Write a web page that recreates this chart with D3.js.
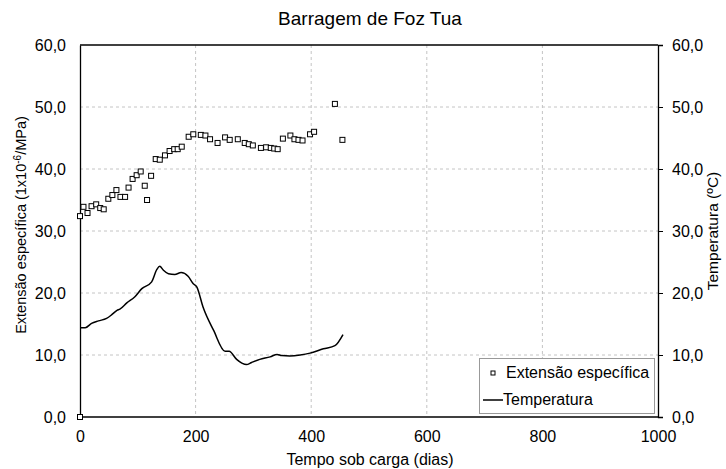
<!DOCTYPE html>
<html>
<head>
<meta charset="utf-8">
<script src="https://cdn.jsdelivr.net/npm/d3@7"></script>
<style>
  body { margin: 0; background: #fff; }
  svg text { font-family: "Liberation Sans", Arial, sans-serif; fill: #000; }
</style>
</head>
<body>
<svg id="chart" width="726" height="469"></svg>
<script>
// dias / extensão específica (1e-6/MPa)
var extDays = [0, 0, 6, 13, 20, 28, 35, 41, 49, 56, 63, 70, 78, 84, 91, 98, 105, 112, 116, 123,
  131, 138, 147, 155, 163, 169, 176, 188, 196, 209, 217, 225, 238, 251, 259, 273, 285, 292, 299,
  313, 322, 330, 336, 342, 351, 364, 371, 378, 385, 398, 405, 441, 454];
var extValues = [0, 32.4, 33.9, 32.9, 34.0, 34.3, 33.7, 33.5, 35.2, 35.8, 36.6, 35.5, 35.5, 37.0, 38.4,
  39.0, 39.6, 37.3, 35.0, 38.9, 41.6, 41.5, 42.2, 42.9, 43.2, 43.2, 43.6, 45.2, 45.6, 45.5, 45.4,
  44.8, 44.2, 45.1, 44.7, 44.8, 44.2, 44.0, 43.8, 43.4, 43.5, 43.4, 43.3, 43.2, 44.9, 45.4, 44.8,
  44.7, 44.6, 45.6, 46.0, 50.5, 44.7];

// dias / temperatura (ºC)
var tempDays = [0, 9, 20, 32, 46, 55, 64, 69, 81, 95, 107, 124, 133, 138, 144, 153, 164, 175, 187,
  196, 202, 213, 231, 251, 258, 271, 280, 288, 297, 311, 329, 341, 349, 363, 381, 398, 421, 441, 455];
var tempValues = [14.4, 14.4, 15.1, 15.5, 15.9, 16.5, 17.2, 17.4, 18.4, 19.4, 20.7, 21.8, 23.8, 24.3,
  23.7, 23.1, 23.0, 23.3, 22.7, 21.5, 21.0, 17.7, 14.0, 10.6, 10.6, 9.3, 8.7, 8.45, 8.8, 9.3, 9.7,
  10.1, 9.9, 9.85, 10.0, 10.3, 11.0, 11.5, 13.3];

var xTicks = [0, 200, 400, 600, 800, 1000];
var yTicks = [0, 10, 20, 30, 40, 50, 60];

var chart = (function(){
  var svg = d3.select("#chart");
  var pL = 80, pR = 658, pT = 45, pB = 417;

  var x = d3.scaleLinear().domain([0, 1000]).range([pL, pR]);
  var yL = d3.scaleLinear().domain([0, 60]).range([pB, pT]);
  var yR = d3.scaleLinear().domain([0, 60]).range([pB, pT]);
  var fmt = function(d){ return d3.format(".1f")(d).replace(".", ","); };

  // grelha
  svg.append("g").selectAll("line").data(xTicks.slice(1, -1)).enter().append("line")
    .attr("x1", function(d){ return x(d); }).attr("x2", function(d){ return x(d); })
    .attr("y1", pT).attr("y2", pB)
    .attr("stroke", "#c4c4c4").attr("stroke-dasharray", "3,3");
  svg.append("g").selectAll("line").data(yTicks.slice(1, -1)).enter().append("line")
    .attr("x1", pL).attr("x2", pR)
    .attr("y1", function(d){ return yL(d); }).attr("y2", function(d){ return yL(d); })
    .attr("stroke", "#c4c4c4").attr("stroke-dasharray", "3,3");

  // eixos
  var gx = svg.append("g").attr("transform", "translate(0," + pB + ")")
    .call(d3.axisBottom(x).tickValues(xTicks).tickSize(0).tickPadding(14).tickFormat(d3.format("d")));
  var gl = svg.append("g").attr("transform", "translate(" + pL + ",0)")
    .call(d3.axisLeft(yL).tickValues(yTicks).tickSize(0).tickPadding(14).tickFormat(fmt));
  var gr = svg.append("g").attr("transform", "translate(" + pR + ",0)")
    .call(d3.axisRight(yR).tickValues(yTicks).tickSize(5).tickPadding(9).tickFormat(fmt));
  [gx, gl, gr].forEach(function(g){
    g.selectAll("text").attr("font-size", 16).attr("font-family", "Liberation Sans, Arial, sans-serif");
    g.select(".domain").attr("stroke", "#000").attr("stroke-width", 1.3);
    g.selectAll(".tick line").attr("stroke", "#000");
  });
  gx.select(".domain").remove();
  svg.append("line").attr("x1", pL).attr("x2", pR).attr("y1", pB).attr("y2", pB)
    .attr("stroke", "#000").attr("stroke-width", 1.3);
  svg.append("line").attr("x1", pL).attr("x2", pR).attr("y1", pT).attr("y2", pT)
    .attr("stroke", "#000").attr("stroke-width", 1.3);

  // temperatura
  var line = d3.line()
    .x(function(d, i){ return x(tempDays[i]); })
    .y(function(d){ return yR(d); })
    .curve(d3.curveMonotoneX);
  svg.append("path").datum(tempValues)
    .attr("d", line).attr("fill", "none").attr("stroke", "#000").attr("stroke-width", 1.5);

  // extensão
  svg.append("g").selectAll("rect").data(extValues).enter().append("rect")
    .attr("x", function(d, i){ return x(extDays[i]) - 2.5; })
    .attr("y", function(d){ return yL(d) - 2.5; })
    .attr("width", 5).attr("height", 5)
    .attr("fill", "#fff").attr("stroke", "#000").attr("stroke-width", 1);

  // títulos
  svg.append("text").attr("x", 370).attr("y", 25).attr("text-anchor", "middle")
    .attr("font-size", 19).text("Barragem de Foz Tua");
  svg.append("text").attr("x", 370).attr("y", 465).attr("text-anchor", "middle")
    .attr("font-size", 16).text("Tempo sob carga (dias)");
  var yt = svg.append("text").attr("transform", "translate(26,225) rotate(-90)")
    .attr("text-anchor", "middle").attr("font-size", 14.5);
  yt.append("tspan").text("Extensão específica (1x10");
  yt.append("tspan").attr("dy", -5).attr("font-size", 10).text("-6");
  yt.append("tspan").attr("dy", 5).text("/MPa)");
  svg.append("text").attr("transform", "translate(718,231) rotate(-90)")
    .attr("text-anchor", "middle").attr("font-size", 15.5).text("Temperatura (ºC)");

  // legenda
  var lg = svg.append("g");
  lg.append("rect").attr("x", 479.5).attr("y", 358.5).attr("width", 175).attr("height", 55)
    .attr("fill", "#fff").attr("stroke", "#999");
  lg.append("rect").attr("x", 491).attr("y", 371).attr("width", 4).attr("height", 4)
    .attr("fill", "#fff").attr("stroke", "#000");
  lg.append("text").attr("x", 506).attr("y", 378).attr("font-size", 16).text("Extensão específica");
  lg.append("line").attr("x1", 483).attr("x2", 503).attr("y1", 400).attr("y2", 400)
    .attr("stroke", "#000").attr("stroke-width", 1.5);
  lg.append("text").attr("x", 503).attr("y", 405).attr("font-size", 16).text("Temperatura");
})();
</script>
</body>
</html>
